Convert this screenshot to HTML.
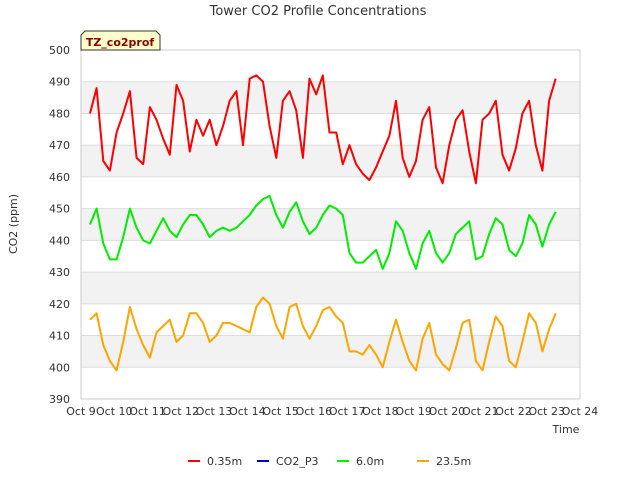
<!DOCTYPE html>
<html><head><meta charset="utf-8"><style>
body{margin:0;background:#fff;font-family:"Liberation Sans","DejaVu Sans",sans-serif}
</style></head><body>
<svg id="chart" width="640" height="480" xmlns="http://www.w3.org/2000/svg" font-family="DejaVu Sans, Liberation Sans, sans-serif">
<rect width="640" height="480" fill="#fff"/>
<text x="318" y="15" text-anchor="middle" font-size="13" fill="#333">Tower CO2 Profile Concentrations</text>
<g id="bands"></g><g id="grid"></g>
<rect x="81" y="50" width="499" height="349" fill="none" stroke="#ccc"/>
<g id="yticks" font-size="11" fill="#333"></g>
<g id="xticks" font-size="11" fill="#333"></g>
<g id="series"></g>
<text transform="translate(17,224) rotate(-90)" text-anchor="middle" font-size="11" fill="#333">CO2 (ppm)</text>
<text x="566" y="433" text-anchor="middle" font-size="11" fill="#333">Time</text>
<g>
<path d="M81,50 L81,35 L85,31 L156,31 L160,35 L160,50 Z" fill="#ffffcc" stroke="#333"/>
<text x="120" y="46" text-anchor="middle" font-size="11" font-weight="bold" fill="#8b0000">TZ_co2prof</text>
</g>
<g id="legend" font-size="11" fill="#333"></g>
</svg>
<script>
const startDay = 9.27;
const stepDay = 0.2;
const xTickLabels = ["Oct 9","Oct 10","Oct 11","Oct 12","Oct 13","Oct 14","Oct 15","Oct 16","Oct 17","Oct 18","Oct 19","Oct 20","Oct 21","Oct 22","Oct 23","Oct 24"];
const yTickValues = [390,400,410,420,430,440,450,460,470,480,490,500];
const seriesNames = ["0.35m","CO2_P3","6.0m","23.5m"];
const seriesColors = ["#ff0000","#0000cc","#00ee00","#ffa500"];
const red = [480,488,465,462,474,480,487,466,464,482,478,472,467,489,484,468,478,473,478,470,476,484,487,470,491,492,490,476,466,484,487,481,466,491,486,492,474,474,464,470,464,461,459,463,468,473,484,466,460,465,478,482,463,458,470,478,481,468,458,478,480,484,467,462,469,480,484,470,462,484,491];
const p3 = [];
const green = [445,450,439,434,434,441,450,444,440,439,443,447,443,441,445,448,448,445,441,443,444,443,444,446,448,451,453,454,448,444,449,452,446,442,444,448,451,450,448,436,433,433,435,437,431,436,446,443,436,431,439,443,436,433,436,442,444,446,434,435,442,447,445,437,435,439,448,445,438,445,449];
const orange = [415,417,407,402,399,408,419,412,407,403,411,413,415,408,410,417,417,414,408,410,414,414,413,412,411,419,422,420,413,409,419,420,413,409,413,418,419,416,414,405,405,404,407,404,400,408,415,408,402,399,409,414,404,401,399,406,414,415,402,399,408,416,413,402,400,408,417,414,405,412,417];
const allSeries = [red,p3,green,orange];

const NS="http://www.w3.org/2000/svg";
const X0=81,X1=580,Y0=399,Y1=50;
const xScale=d=>X0+(d-9)/15*(X1-X0);
const yScale=v=>Y0-(v-390)/110*(Y0-Y1);
function mk(tag,attrs,parent){const e=document.createElementNS(NS,tag);for(const k in attrs)e.setAttribute(k,attrs[k]);parent.appendChild(e);return e;}
const bands=document.getElementById('bands'),grid=document.getElementById('grid');
for(let v=400;v<500;v+=20){
  const r=mk('rect',{x:X0,y:yScale(v+10),width:X1-X0,height:yScale(v)-yScale(v+10),fill:'#f2f2f2'},bands);
  
  
}
const yt=document.getElementById('yticks');
yTickValues.forEach(v=>{
  const l=mk('line',{x1:X0,x2:X1,y1:yScale(v),y2:yScale(v),stroke:'#ddd'},grid);
  
  
  const t=mk('text',{x:70,y:yScale(v)+4,'text-anchor':'end'},yt);
  
  
  t.textContent=v;
});
const xt=document.getElementById('xticks');
xTickLabels.forEach((s,i)=>{
  const t=mk('text',{x:xScale(9+i),y:415,'text-anchor':'middle'},xt);
  
  
  t.textContent=s;
});
const sg=document.getElementById('series');
allSeries.forEach((vals,si)=>{
  if(!vals.length)return;
  const d=vals.map((v,i)=>(i?'L':'M')+xScale(startDay+i*stepDay).toFixed(1)+','+yScale(v).toFixed(1)).join('');
  const p=mk('path',{d:d,fill:'none',stroke:seriesColors[si],'stroke-width':2,'stroke-linejoin':'round'},sg);
  
  
});
const lg=document.getElementById('legend');
const lx=[188,257,337,417];
seriesNames.forEach((n,i)=>{
  const g=mk('g',{},lg);
  
  
  mk('line',{x1:lx[i],x2:lx[i]+12,y1:461,y2:461,stroke:seriesColors[i],'stroke-width':2},g);
  const t=mk('text',{x:lx[i]+19,y:465},g);
  t.textContent=n;
});
</script>
</body></html>
